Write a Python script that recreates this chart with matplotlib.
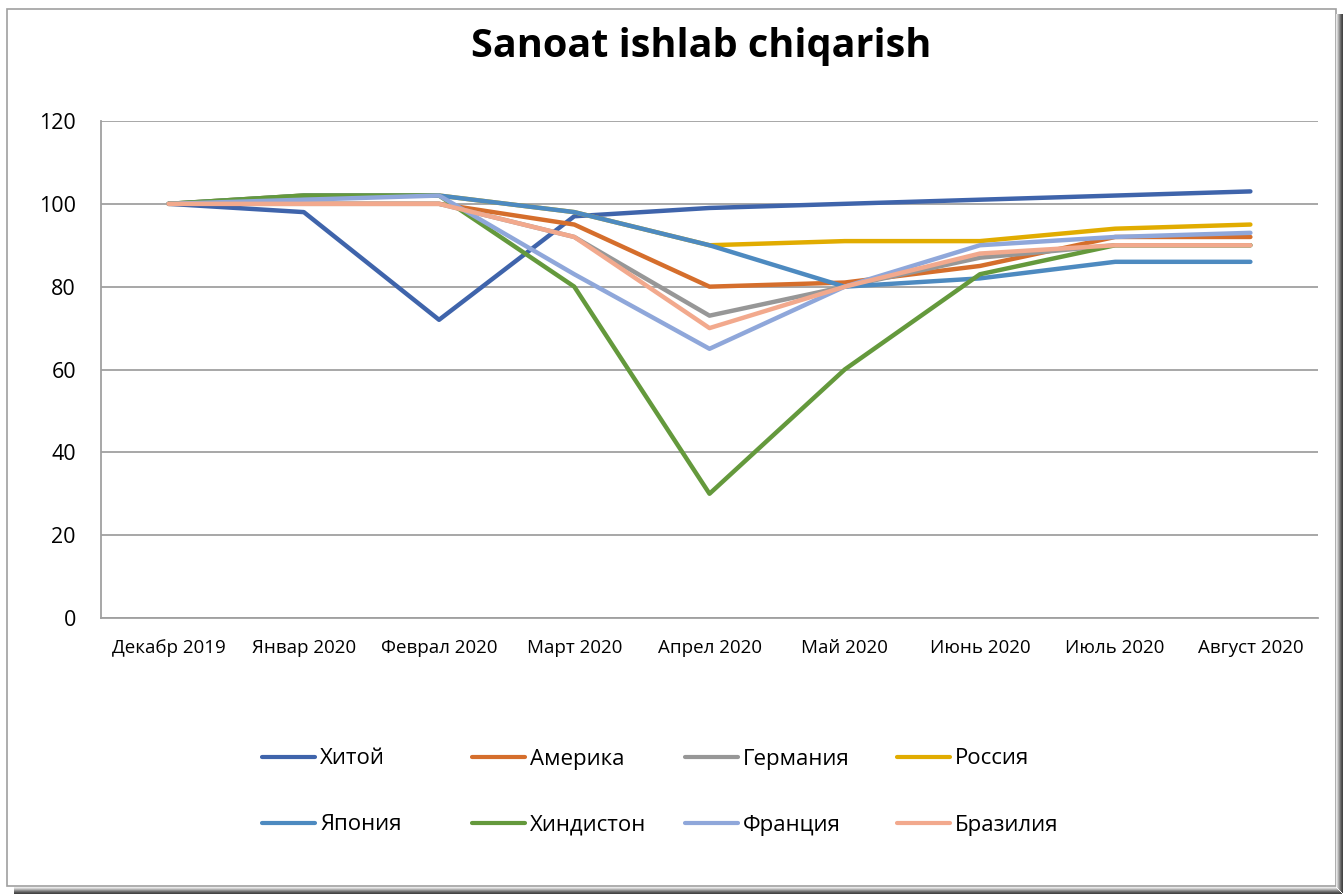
import matplotlib
matplotlib.use("Agg")
import matplotlib.pyplot as plt
from matplotlib.patches import Rectangle
from matplotlib.lines import Line2D

plt.rcParams['font.family'] = ['Open Sans', 'DejaVu Sans']

months = ["Декабр 2019", "Январ 2020", "Феврал 2020", "Март 2020", "Апрел 2020",
          "Май 2020", "Июнь 2020", "Июль 2020", "Август 2020"]

china   = [100, 98, 72, 97, 99, 100, 101, 102, 103]
america = [100, 100, 100, 95, 80, 81, 85, 92, 92]
germany = [100, 100, 100, 92, 73, 80, 87, 90, 90]
russia  = [100, 102, 102, 98, 90, 91, 91, 94, 95]
japan   = [100, 102, 102, 98, 90, 80, 82, 86, 86]
india   = [100, 102, 102, 80, 30, 60, 83, 90, 90]
france  = [100, 101, 102, 83, 65, 80, 90, 92, 93]
brazil  = [100, 100, 100, 92, 70, 80, 88, 90, 90]

names = ["Хитой", "Америка", "Германия", "Россия", "Япония", "Хиндистон", "Франция", "Бразилия"]
series = [china, america, germany, russia, japan, india, france, brazil]
colors = ["#3F64AB", "#D56E2C", "#979797", "#E1AC00", "#4D8AC0", "#64993C", "#8FA7DA", "#F2A98D"]

W, H = 1343, 894
fig = plt.figure(figsize=(W / 100, H / 100), dpi=100)
fig.patch.set_facecolor("white")

# frame with shadow
fig.patches.append(Rectangle((7 / W, 1 - 886 / H), (1336 - 7) / W, (886 - 9) / H,
                             transform=fig.transFigure, fill=False,
                             edgecolor="#A0A0A0", lw=1.2, zorder=0))
shades = ["#E8E8E8", "#D0D0D0", "#B0B0B0", "#909090", "#707070", "#555555", "#444444"]
for i, c in enumerate(shades):
    fig.patches.append(Rectangle(((1336 + i) / W, 1 - (887 + i) / H), 1 / W, (887 + i - 14) / H,
                                 transform=fig.transFigure, color=c, lw=0, zorder=0))
    fig.patches.append(Rectangle((14 / W, 1 - (887 + i + 1) / H), (1336 + i - 14) / W, 1 / H,
                                 transform=fig.transFigure, color=c, lw=0, zorder=0))

ax = fig.add_axes([101 / W, 1 - 618 / H, (1318 - 101) / W, (618 - 121) / H])
x = list(range(len(months)))
lines = []
for name, vals, col in zip(names, series, colors):
    ln, = ax.plot(x, vals, color=col, lw=3.2, solid_capstyle="round", solid_joinstyle="round",
                  label=name)
    lines.append(ln)

ax.set_xlim(-0.5, len(months) - 0.5)
ax.set_ylim(0, 120)
ax.set_yticks(range(0, 121, 20))
ax.set_xticks(x)
ax.set_xticklabels(months)
ax.grid(axis="y", color="#A0A0A0", lw=1.3)
ax.set_axisbelow(True)
for s in ["top", "right"]:
    ax.spines[s].set_visible(False)
for s in ["left", "bottom"]:
    ax.spines[s].set_color("#A0A0A0")
    ax.spines[s].set_linewidth(1.3)
ax.tick_params(axis="y", length=0, pad=18, labelsize=15.5)
ax.tick_params(axis="x", length=0, pad=15, labelsize=13.5)

fig.text(701 / W, 1 - 47 / H, "Sanoat ishlab chiqarish", ha="center", va="center",
         fontsize=28.5, fontweight="bold")

col_x = [262, 472, 685, 897]
row_y = [759, 825]
for k, ln in enumerate(lines):
    j, r = k % 4, k // 4
    h = Line2D([0], [0], color=ln.get_color(), lw=3, solid_capstyle="round")
    leg = fig.legend([h], [names[k]], loc="center left",
                     bbox_to_anchor=(col_x[j] / W, 1 - row_y[r] / H),
                     frameon=False, fontsize=16, handlelength=2.4, handletextpad=0.22,
                     borderpad=0, borderaxespad=0)

fig.savefig("out.png", dpi=100, facecolor="white")
